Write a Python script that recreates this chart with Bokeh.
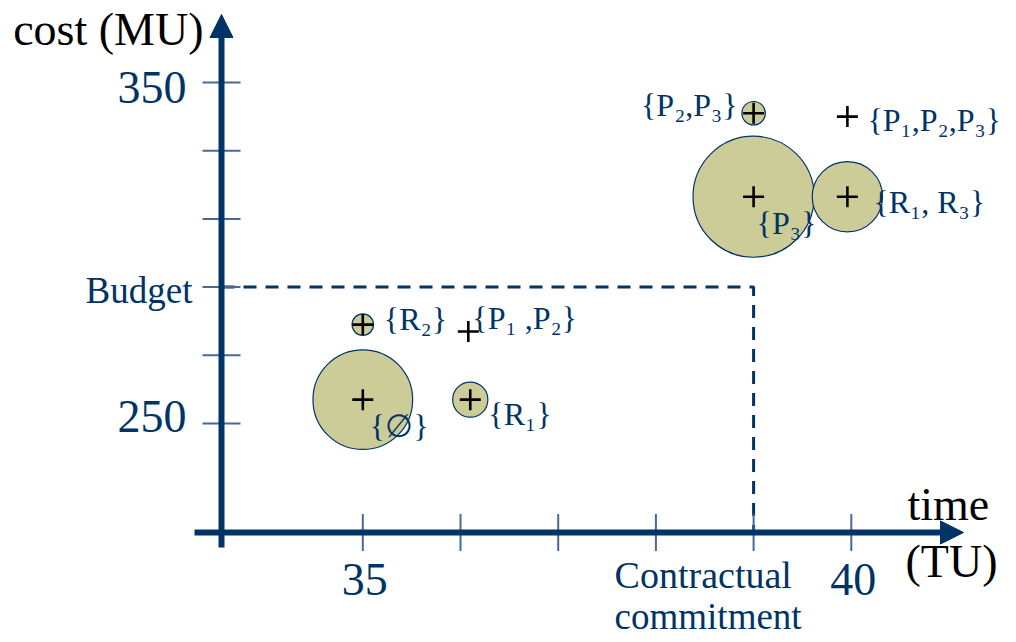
import math
from bokeh.plotting import figure
from bokeh.models import Range1d, Arrow, NormalHead, ColumnDataSource
from bokeh.core.properties import value
from bokeh.embed import file_html
from bokeh.resources import INLINE

# ---------------- data ----------------
scenarios = ["{∅}", "{R₂}", "{P₁ ,P₂}", "{R₁}", "{P₂,P₃}", "{P₁,P₂,P₃}", "{P₃}", "{R₁, R₃}"]
time_tu = [35.0, 35.0, 36.08, 36.1, 39.0, 39.96, 39.0, 39.96]
cost_mu = [257.0, 279.0, 277.0, 257.0, 341.0, 340.0, 316.5, 316.5]
spread_tu = [0.51, 0.11, 0.0, 0.18, 0.12, 0.0, 0.62, 0.36]   # uncertainty radius (TU)

x_ticks = [35, 36, 37, 38, 39, 40]
x_tick_labels = {35: "35", 40: "40"}
y_ticks = [250, 270, 290, 310, 330, 350]
y_tick_labels = {250: "250", 350: "350"}

budget = 290
commitment = 39

# ---------------- layout / style ----------------
W, H = 1016, 642
PX_TU = 97.7
PX_MU = 3.41
x_start = 35 - 362.3 / PX_TU
y_end = 250 + 423 / PX_MU
NAVY = "#003366"
TICK = "#46699a"
FILL = "#CCCC99"
SERIF = value("Liberation Serif")
BASE_FIX = 0.34   # alphabetic baseline correction (em)

Y_AXIS_AT = 35 - 141.3 / PX_TU      # time where the cost axis stands
X_AXIS_AT = 250 - 109 / PX_MU       # cost where the time axis stands
X_AXIS_FROM = 35 - 168.3 / PX_TU
X_AXIS_TIP = 35 + 600.7 / PX_TU
Y_AXIS_FROM = 250 - 124 / PX_MU
Y_AXIS_TIP = 250 + 409 / PX_MU

p = figure(width=W, height=H, output_backend="svg", toolbar_location=None,
           x_range=Range1d(x_start, x_start + W / PX_TU),
           y_range=Range1d(y_end - H / PX_MU, y_end),
           x_axis_type=None, y_axis_type=None, min_border=0,
           outline_line_color=None, background_fill_color="white",
           border_fill_color="white")
p.grid.visible = False

# dashed budget / commitment lines
p.line(x=[Y_AXIS_AT, commitment, commitment], y=[budget, budget, X_AXIS_AT],
       line_color=NAVY, line_width=3, line_dash="13 9")

# uncertainty circles
circ = ColumnDataSource(dict(
    x=[t for t, s in zip(time_tu, spread_tu) if s > 0],
    y=[c for c, s in zip(cost_mu, spread_tu) if s > 0],
    r=[s for s in spread_tu if s > 0]))
p.circle(x="x", y="y", radius="r", radius_dimension="x", source=circ,
         fill_color=FILL, line_color=NAVY, line_width=1.2)

# scenario points
pts = ColumnDataSource(dict(x=time_tu, y=cost_mu, label=scenarios))
p.scatter(x="x", y="y", source=pts, marker="cross", size=21,
          line_color="black", line_width=2.6)

# axes with arrows
p.add_layout(Arrow(x_start=X_AXIS_FROM, y_start=X_AXIS_AT, x_end=X_AXIS_TIP, y_end=X_AXIS_AT,
                   line_color=NAVY, line_width=6,
                   end=NormalHead(size=23, fill_color=NAVY, line_color=NAVY)))
p.add_layout(Arrow(x_start=Y_AXIS_AT, y_start=Y_AXIS_FROM, x_end=Y_AXIS_AT, y_end=Y_AXIS_TIP,
                   line_color=NAVY, line_width=6,
                   end=NormalHead(size=23, fill_color=NAVY, line_color=NAVY)))

# tick marks
p.scatter(x=x_ticks, y=[X_AXIS_AT] * len(x_ticks), marker="dash", angle=math.pi / 2,
          size=37, line_color=TICK, line_width=2)
p.scatter(x=[Y_AXIS_AT] * len(y_ticks), y=y_ticks, marker="dash",
          size=38, line_color=TICK, line_width=2)

def txt(x, y, s, size, color=NAVY, align="left", baseline="alphabetic", dx=0, dy=0):
    if baseline == "alphabetic":
        dy -= BASE_FIX * size
    p.text(x=[x], y=[y], text=[s], text_font=SERIF, text_font_size=f"{size}px",
           text_color=color, text_align=align, text_baseline=baseline,
           x_offset=dx, y_offset=dy)

# tick labels
tick_off = {250: 9, 350: 21}
for v, s in y_tick_labels.items():
    txt(Y_AXIS_AT, v, s, 46, align="right", dx=-35, dy=tick_off[v])
for v, s in x_tick_labels.items():
    txt(v, X_AXIS_AT, s, 46, align="center", dx=2, dy=63)

# axis titles
txt(Y_AXIS_AT, Y_AXIS_TIP, "cost (MU)", 46, color="black", align="right", dx=-18, dy=31)
txt(X_AXIS_TIP, X_AXIS_AT, "time", 46, color="black", dx=-56, dy=-12)
txt(X_AXIS_TIP, X_AXIS_AT, "(TU)", 46, color="black", dx=-58, dy=45)

# reference annotations
txt(Y_AXIS_AT, budget, "Budget", 37, align="right", dx=-29, dy=16)
txt(commitment, X_AXIS_AT, "Contractual", 38, dx=-139, dy=55)
txt(commitment, X_AXIS_AT, "commitment", 37, dx=-139, dy=97)

# scenario labels
lab_off = [(7, 26, "left"), (21, -6, "left"), (4, -13, "left"), (18, 14, "left"),
           (-16, -8, "right"), (20, 3, "left"), (3, 26, "left"), (26, 5, "left")]
for t, c, s, (dx, dy, al) in zip(time_tu, cost_mu, scenarios, lab_off):
    txt(t, c, s, 32, align=al, baseline="middle", dx=dx, dy=dy)

open("out.html", "w").write(file_html(p, INLINE))
